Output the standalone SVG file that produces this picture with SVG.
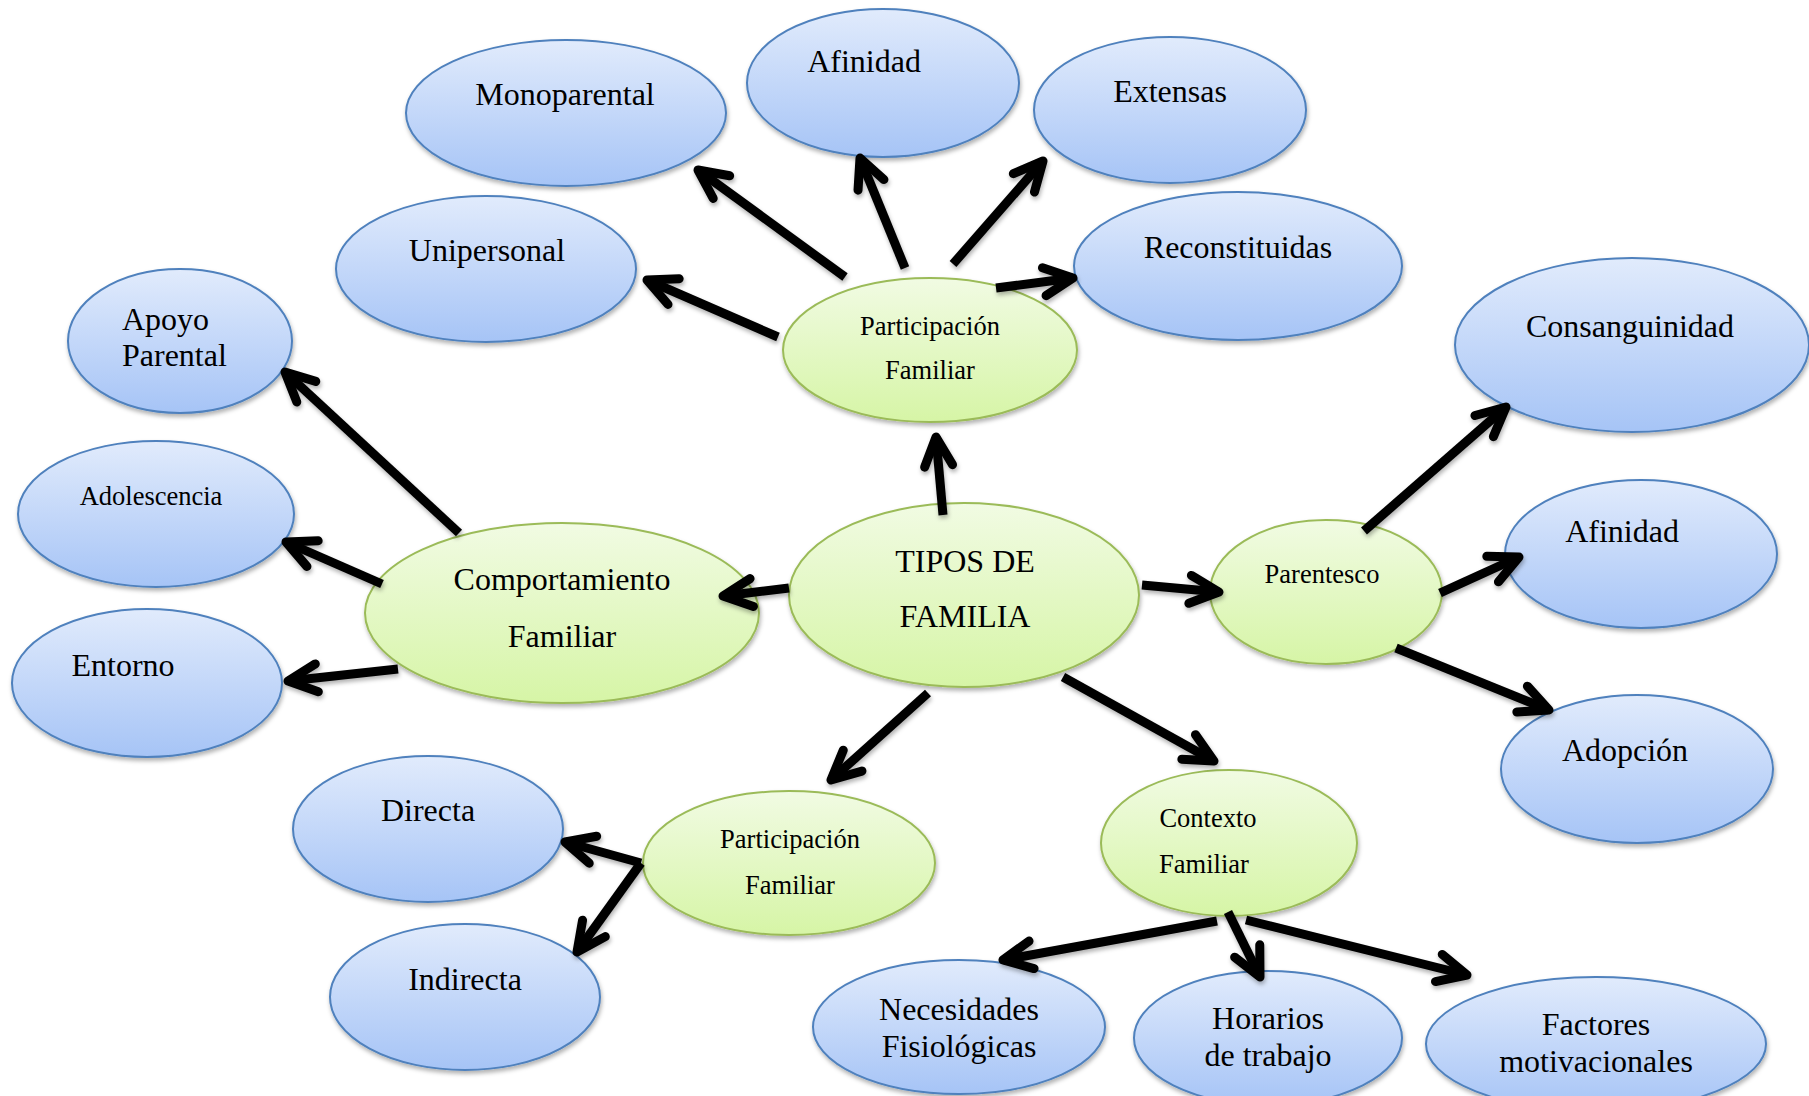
<svg xmlns="http://www.w3.org/2000/svg" width="1809" height="1096" viewBox="0 0 1809 1096">
<defs>
<linearGradient id="gb" x1="0" y1="0" x2="0" y2="1">
<stop offset="0" stop-color="#e1ebfc"/>
<stop offset="1" stop-color="#a6c4f6"/>
</linearGradient>
<linearGradient id="gg" x1="0" y1="0" x2="0" y2="1">
<stop offset="0" stop-color="#f1fbe3"/>
<stop offset="1" stop-color="#d6f5a6"/>
</linearGradient>
<filter id="sh" x="-10%" y="-10%" width="120%" height="130%">
<feDropShadow dx="1" dy="3" stdDeviation="2" flood-color="#000" flood-opacity="0.3"/>
</filter>
<marker id="ah" markerUnits="userSpaceOnUse" viewBox="-40 -25 50 50" markerWidth="50" markerHeight="50" refX="0" refY="0" orient="auto" overflow="visible">
<path d="M-29,-14 L0,0 L-29,14" fill="none" stroke="#000" stroke-width="9" stroke-linecap="round" stroke-linejoin="round"/>
</marker>
</defs>
<style>
.b{fill:url(#gb);stroke:#4f81bd;stroke-width:2;filter:url(#sh)}
.g{fill:url(#gg);stroke:#9bbb59;stroke-width:2;filter:url(#sh)}
text{font-family:"Liberation Serif","Times New Roman",serif;fill:#000}
.L{font-size:32px;text-anchor:middle}
.S{font-size:26.5px;text-anchor:middle}
.c line{stroke:#000;stroke-width:9;stroke-linecap:butt;marker-end:url(#ah)}
</style>
<rect width="1809" height="1096" fill="#fff"/>

<g id="monoparental"><ellipse class="b" cx="566" cy="113" rx="160" ry="73"/><text class="L" x="565" y="105">Monoparental</text></g>
<g id="afinidad-top"><ellipse class="b" cx="883" cy="83" rx="136" ry="74"/><text class="L" x="864" y="72">Afinidad</text></g>
<g id="extensas"><ellipse class="b" cx="1170" cy="110" rx="136" ry="73"/><text class="L" x="1170" y="102">Extensas</text></g>
<g id="unipersonal"><ellipse class="b" cx="486" cy="269" rx="150" ry="73"/><text class="L" x="487" y="261">Unipersonal</text></g>
<g id="reconstituidas"><ellipse class="b" cx="1238" cy="266" rx="164" ry="74"/><text class="L" x="1238" y="258">Reconstituidas</text></g>
<g id="apoyo-parental"><ellipse class="b" cx="180" cy="341" rx="112" ry="72"/><text style="font-size:32px" x="122" y="330">Apoyo</text><text style="font-size:32px" x="122" y="366">Parental</text></g>
<g id="adolescencia"><ellipse class="b" cx="156" cy="514" rx="138" ry="73"/><text class="S" x="151" y="505">Adolescencia</text></g>
<g id="entorno"><ellipse class="b" cx="147" cy="683" rx="135" ry="74"/><text class="L" x="123" y="676">Entorno</text></g>
<g id="consanguinidad"><ellipse class="b" cx="1632" cy="345" rx="177" ry="87"/><text class="L" x="1630" y="337">Consanguinidad</text></g>
<g id="afinidad-right"><ellipse class="b" cx="1641" cy="554" rx="136" ry="74"/><text class="L" x="1622" y="542">Afinidad</text></g>
<g id="adopcion"><ellipse class="b" cx="1637" cy="769" rx="136" ry="74"/><text class="L" x="1625" y="761">Adopción</text></g>
<g id="directa"><ellipse class="b" cx="428" cy="829" rx="135" ry="73"/><text class="L" x="428" y="821">Directa</text></g>
<g id="indirecta"><ellipse class="b" cx="465" cy="997" rx="135" ry="73"/><text class="L" x="465" y="990">Indirecta</text></g>
<g id="necesidades"><ellipse class="b" cx="959" cy="1027" rx="146" ry="67"/><text class="L" x="959" y="1020">Necesidades</text><text class="L" x="959" y="1057">Fisiológicas</text></g>
<g id="horarios"><ellipse class="b" cx="1268" cy="1038" rx="134" ry="67"/><text class="L" x="1268" y="1029">Horarios</text><text class="L" x="1268" y="1066">de trabajo</text></g>
<g id="factores"><ellipse class="b" cx="1596" cy="1044" rx="170" ry="67"/><text class="L" x="1596" y="1035">Factores</text><text class="L" x="1596" y="1072">motivacionales</text></g>

<g id="tipos"><ellipse class="g" cx="964" cy="595" rx="175" ry="92"/><text class="L" x="965" y="572">TIPOS DE</text><text class="L" x="965" y="627">FAMILIA</text></g>
<g id="participacion-top"><ellipse class="g" cx="930" cy="350" rx="147" ry="72"/><text class="S" x="930" y="335">Participación</text><text class="S" x="930" y="379">Familiar</text></g>
<g id="comportamiento"><ellipse class="g" cx="562" cy="613" rx="197" ry="90"/><text class="L" x="562" y="590">Comportamiento</text><text class="L" x="562" y="647">Familiar</text></g>
<g id="parentesco"><ellipse class="g" cx="1326" cy="592" rx="116" ry="72"/><text class="S" x="1322" y="583">Parentesco</text></g>
<g id="participacion-bottom"><ellipse class="g" cx="789" cy="863" rx="146" ry="72"/><text class="S" x="790" y="848">Participación</text><text class="S" x="790" y="894">Familiar</text></g>
<g id="contexto"><ellipse class="g" cx="1229" cy="843" rx="128" ry="73"/><text class="S" x="1208" y="827">Contexto</text><text class="S" x="1204" y="873">Familiar</text></g>

<g id="connectors" class="c" filter="url(#sh)">
<line x1="943" y1="515" x2="936" y2="437"/>
<line x1="789" y1="588" x2="723" y2="596"/>
<line x1="1142" y1="585" x2="1219" y2="592"/>
<line x1="928" y1="693" x2="831" y2="780"/>
<line x1="1063" y1="677" x2="1214" y2="761"/>
<line x1="778" y1="337" x2="647" y2="280"/>
<line x1="845" y1="277" x2="698" y2="170"/>
<line x1="905" y1="268" x2="860" y2="158"/>
<line x1="953" y1="264" x2="1043" y2="161"/>
<line x1="996" y1="288" x2="1073" y2="278"/>
<line x1="459" y1="533" x2="285" y2="372"/>
<line x1="382" y1="584" x2="286" y2="542"/>
<line x1="398" y1="669" x2="288" y2="681"/>
<line x1="1364" y1="531" x2="1506" y2="407"/>
<line x1="1440" y1="593" x2="1519" y2="557"/>
<line x1="1396" y1="648" x2="1549" y2="710"/>
<line x1="641" y1="863" x2="565" y2="842"/>
<line x1="641" y1="863" x2="577" y2="952"/>
<line x1="1217" y1="921" x2="1003" y2="960"/>
<line x1="1228" y1="912" x2="1260" y2="977"/>
<line x1="1246" y1="920" x2="1467" y2="975"/>
</g>
</svg>
